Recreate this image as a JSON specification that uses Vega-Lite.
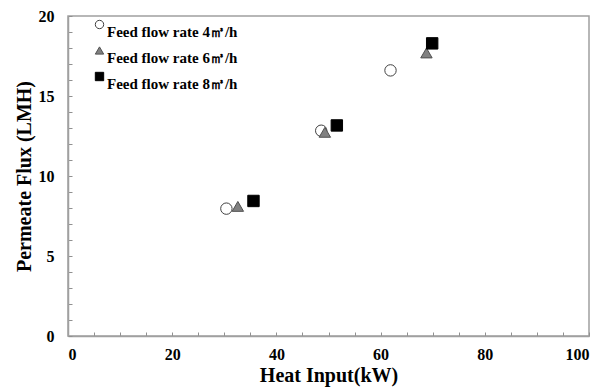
{
  "$schema": "https://vega.github.io/schema/vega-lite/v6.json",
  "width": 521,
  "height": 320,
  "autosize": "none",
  "padding": {"left": 68, "top": 16, "right": 21, "bottom": 52},
  "background": "white",
  "config": {
    "view": {"stroke": "#a0a0a0", "strokeWidth": 1.5},
    "font": "Liberation Serif",
    "axis": {
      "grid": false,
      "domainColor": "#a0a0a0",
      "domainWidth": 1.5,
      "tickColor": "#909090",
      "tickSize": -4,
      "labelFont": "Liberation Serif",
      "labelFontWeight": "bold",
      "labelFontSize": 16,
      "labelColor": "black",
      "titleFont": "Liberation Serif",
      "titleFontWeight": "bold",
      "titleFontSize": 20,
      "titleColor": "black"
    },
    "legend": {
      "title": null,
      "orient": "none",
      "legendX": 24,
      "legendY": 1,
      "padding": 0,
      "symbolSize": 70,
      "symbolStrokeWidth": 1,
      "labelBaseline": "top",
      "labelOffset": 0,
      "rowPadding": 3,
      "labelFont": "Liberation Serif",
      "labelFontWeight": "bold",
      "labelFontSize": 15,
      "labelColor": "black",
      "labelLimit": 300
    }
  },
  "data": {
    "values": [
      {"series": "Feed flow rate 4㎥/h", "heat": 30.4, "flux": 7.96},
      {"series": "Feed flow rate 4㎥/h", "heat": 48.6, "flux": 12.83},
      {"series": "Feed flow rate 4㎥/h", "heat": 61.9, "flux": 16.6},
      {"series": "Feed flow rate 6㎥/h", "heat": 32.6, "flux": 8.1},
      {"series": "Feed flow rate 6㎥/h", "heat": 49.3, "flux": 12.73},
      {"series": "Feed flow rate 6㎥/h", "heat": 68.8, "flux": 17.69},
      {"series": "Feed flow rate 8㎥/h", "heat": 35.6, "flux": 8.44},
      {"series": "Feed flow rate 8㎥/h", "heat": 51.6, "flux": 13.16},
      {"series": "Feed flow rate 8㎥/h", "heat": 69.9, "flux": 18.29}
    ]
  },
  "mark": {"type": "point", "filled": true, "opacity": 1, "strokeWidth": 1, "size": 130},
  "encoding": {
    "x": {
      "field": "heat",
      "type": "quantitative",
      "title": "Heat Input(kW)",
      "scale": {"domain": [0, 100], "nice": false, "zero": true},
      "axis": {
        "values": [0,5,10,15,20,25,30,35,40,45,50,55,60,65,70,75,80,85,90,95,100],
        "labelExpr": "datum.value % 20 == 0 ? datum.label : ''",
        "labelPadding": 14,
        "titlePadding": 3
      }
    },
    "y": {
      "field": "flux",
      "type": "quantitative",
      "title": "Permeate Flux (LMH)",
      "scale": {"domain": [0, 20], "nice": false},
      "axis": {
        "values": [0,1,2,3,4,5,6,7,8,9,10,11,12,13,14,15,16,17,18,19,20],
        "labelExpr": "datum.value % 5 == 0 ? datum.label : ''",
        "labelPadding": 18,
        "titlePadding": 4
      }
    },
    "shape": {
      "field": "series",
      "type": "nominal",
      "scale": {"domain": ["Feed flow rate 4㎥/h", "Feed flow rate 6㎥/h", "Feed flow rate 8㎥/h"], "range": ["circle", "triangle-up", "square"]}
    },
    "fill": {
      "field": "series",
      "type": "nominal",
      "scale": {"domain": ["Feed flow rate 4㎥/h", "Feed flow rate 6㎥/h", "Feed flow rate 8㎥/h"], "range": ["white", "#808080", "black"]}
    },
    "stroke": {
      "field": "series",
      "type": "nominal",
      "scale": {"domain": ["Feed flow rate 4㎥/h", "Feed flow rate 6㎥/h", "Feed flow rate 8㎥/h"], "range": ["#404040", "#505050", "black"]}
    }
  }
}
